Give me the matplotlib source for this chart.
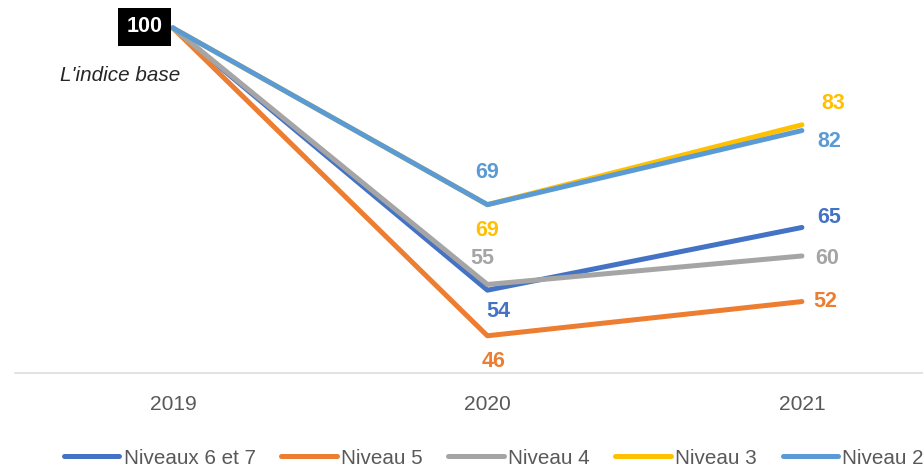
import matplotlib
matplotlib.use("Agg")
import matplotlib.pyplot as plt

years = ["2019", "2020", "2021"]
series_names = ["Niveaux 6 et 7", "Niveau 5", "Niveau 4", "Niveau 3", "Niveau 2"]
niv67 = [100, 54, 65]
niv5 = [100, 46, 52]
niv4 = [100, 55, 60]
niv3 = [100, 69, 83]
niv2 = [100, 69, 82]

colors = ["#4472C4", "#ED7D31", "#A5A5A5", "#FFC000", "#5B9BD5"]
# label offsets (px) for 2020 and 2021 points
offsets = [
    [(11, -21), (27, 10)],
    [(6, -26), (23, 0)],
    [(-5, 26), (25, -3)],
    [(0, -26), (31, 21)],
    [(0, 32), (27, -11)],
]


def graph():
    plt.rcParams['font.family'] = ['Liberation Sans', 'DejaVu Sans']
    fig = plt.figure(figsize=(923 / 72, 468 / 72), dpi=72)
    ax = fig.add_axes([15 / 923, 1 - 373 / 468, 908 / 923, 373 / 468])
    x = list(range(len(years)))
    data = [niv67, niv5, niv4, niv3, niv2]
    for name, vals, col, offs in zip(series_names, data, colors, offsets):
        ax.plot(x, vals, color=col, lw=5, label=name,
                solid_capstyle='round', solid_joinstyle='round')
        for i, off in zip([1, 2], offs):
            ax.annotate(str(vals[i]), (x[i], vals[i]), xytext=off,
                        textcoords='offset points', ha='center', va='center',
                        fontsize=21.5, fontweight='bold', color=col)

    ax.annotate("100", (0, 100), xytext=(-28, 1), textcoords='offset points',
                ha='center', va='center', fontsize=21.5, fontweight='bold',
                color='white',
                bbox=dict(boxstyle='square,pad=0.4', fc='black', ec='none'))
    ax.annotate("L'indice base", (0, 100), xytext=(-53, -48),
                textcoords='offset points', ha='center', va='center',
                fontsize=20.6, style='italic', color='#262626')

    ax.set_xlim(-0.502, 2.385)
    ax.set_ylim(39.47, 104.9)
    ax.set_xticks(x)
    ax.set_xticklabels(years)
    ax.set_yticks([])
    ax.tick_params(axis='x', length=0, pad=22, labelsize=21, labelcolor='#595959')
    for s in ['top', 'right', 'left']:
        ax.spines[s].set_visible(False)
    ax.spines['bottom'].set_color('#D9D9D9')
    ax.spines['bottom'].set_linewidth(1.5)
    ax.patch.set_alpha(0)

    fig.legend(loc='center', bbox_to_anchor=(0.535, 10 / 468), ncol=5,
               frameon=False, fontsize=20.6, handlelength=2.7, handletextpad=0.2,
               columnspacing=1.25, labelcolor='#595959', borderaxespad=0)
    fig.savefig('out.png', dpi=72)


def main():
    graph()


if __name__ == '__main__':
    main()
